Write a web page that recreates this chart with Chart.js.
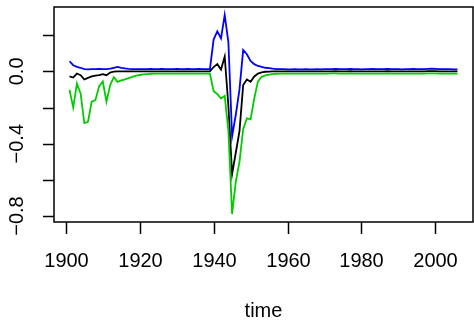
<!DOCTYPE html>
<html>
<head>
<meta charset="utf-8">
<script src="https://cdn.jsdelivr.net/npm/chart.js@4.4.0/dist/chart.umd.min.js"></script>
<style>
  html, body { margin: 0; padding: 0; background: #fff; }
  canvas { display: block; }
</style>
</head>
<body>
<canvas id="chart" width="474" height="323"></canvas>
<script>
// yearly values 1901..2006
const years = [
  1901,1902,1903,1904,1905,1906,1907,1908,1909,1910,1911,1912,1913,1914,1915,1916,1917,1918,1919,1920,
  1921,1922,1923,1924,1925,1926,1927,1928,1929,1930,1931,1932,1933,1934,1935,1936,1937,1938,1939,
  1940,1941,1942,1943,1944,1945,1946,1947,1948,1949,1950,1951,1952,1953,1954,1955,1956,1957,1958,
  1959,1960,1961,1962,1963,1964,1965,1966,1967,1968,1969,1970,1971,1972,1973,1974,1975,1976,1977,1978,
  1979,1980,1981,1982,1983,1984,1985,1986,1987,1988,1989,1990,1991,1992,1993,1994,1995,1996,1997,1998,
  1999,2000,2001,2002,2003,2004,2005,2006
];

const upper = [
  0.056,0.034,0.025,0.02,0.013,0.011,0.012,0.012,0.013,0.012,0.013,0.015,0.02,0.025,0.02,0.016,0.014,0.013,0.013,0.012,
  0.012,0.012,0.013,0.012,0.012,0.013,0.012,0.012,0.012,0.013,0.012,0.012,0.013,0.012,0.012,0.013,0.012,0.012,0.013,
  0.176,0.222,0.182,0.312,0.16,-0.36,-0.24,-0.1,0.119,0.095,0.058,0.04,0.03,0.025,0.02,0.018,0.015,0.013,0.012,
  0.012,0.011,0.011,0.012,0.011,0.011,0.012,0.011,0.011,0.012,0.011,0.012,0.012,0.013,0.014,0.013,0.012,0.013,0.014,0.013,
  0.012,0.011,0.012,0.012,0.013,0.012,0.012,0.013,0.014,0.013,0.012,0.012,0.011,0.012,0.012,0.013,0.012,0.012,0.013,0.014,
  0.015,0.014,0.013,0.013,0.012,0.012,0.011,0.011
];

const middle = [
  -0.028,-0.034,-0.012,-0.021,-0.045,-0.036,-0.028,-0.023,-0.021,-0.015,-0.021,-0.006,-0.001,0,0,0,0,0,0,0,
  0,0,0,0,0,0,0,0,0,0,0,0,0,0,0,0,0,0,0,
  0.024,0.04,0.01,0.082,-0.19,-0.568,-0.45,-0.33,-0.076,-0.045,-0.058,-0.028,-0.012,-0.005,-0.002,-0.001,0,0,0,
  0,0,0,0,0,0,0,0,0,0,0,0,0,0,0.001,0,0,0,0.001,0,
  0,0,0,0,0,0,0,0,0.001,0,0,0,0,0,0,0,0,0,0,0.001,
  0.001,0.001,0,0,0,0,0,0
];

const lower = [
  -0.102,-0.2,-0.067,-0.122,-0.286,-0.279,-0.168,-0.159,-0.083,-0.056,-0.168,-0.076,-0.032,-0.058,-0.05,-0.044,-0.037,-0.03,-0.024,-0.02,
  -0.017,-0.015,-0.013,-0.012,-0.012,-0.012,-0.012,-0.012,-0.012,-0.012,-0.012,-0.012,-0.012,-0.012,-0.012,-0.012,-0.012,-0.012,-0.012,
  -0.11,-0.125,-0.15,-0.135,-0.33,-0.789,-0.61,-0.5,-0.32,-0.26,-0.265,-0.15,-0.055,-0.03,-0.022,-0.018,-0.015,-0.013,-0.012,
  -0.012,-0.012,-0.012,-0.012,-0.012,-0.012,-0.012,-0.012,-0.012,-0.012,-0.012,-0.012,-0.012,-0.011,-0.011,-0.012,-0.012,-0.012,-0.011,-0.012,
  -0.012,-0.012,-0.012,-0.012,-0.012,-0.012,-0.012,-0.012,-0.011,-0.012,-0.012,-0.012,-0.012,-0.012,-0.012,-0.012,-0.012,-0.012,-0.012,-0.011,
  -0.011,-0.011,-0.012,-0.012,-0.012,-0.012,-0.012,-0.012
];

const xTicks = [1900, 1920, 1940, 1960, 1980, 2000];
const yTicks = [0.2, 0.0, -0.2, -0.4, -0.6, -0.8];
const yTickLabels = ['0.0', '-0.4', '-0.8'];
const yLabelAt = [0.0, -0.4, -0.8];
const xTitle = 'time';

const FONT = '20px "Liberation Sans", Arial, sans-serif';

// R style: data range stretched by 4% each side
const allVals = upper.concat(middle, lower);
const yLo = Math.min(...allVals), yHi = Math.max(...allVals);
const yPad = (yHi - yLo) * 0.04;
const xPad = (years[years.length - 1] - years[0]) * 0.04;

const toPts = arr => arr.map((v, i) => ({ x: years[i], y: v }));

// draws the box, ticks and labels the way R's base graphics does
const rAxes = {
    id: 'rAxes',
    afterDraw(chart) {
        const ctx = chart.ctx;
        const a = chart.chartArea;
        const xs = chart.scales.x, ys = chart.scales.y;
        ctx.save();
        ctx.strokeStyle = '#000';
        ctx.lineWidth = 1.5;
        ctx.strokeRect(a.left, a.top, a.right - a.left, a.bottom - a.top);

        ctx.fillStyle = '#000';
        ctx.font = FONT;
        ctx.textAlign = 'center';
        ctx.textBaseline = 'middle';
        xTicks.forEach(t => {
            const px = Math.round(xs.getPixelForValue(t)) + 0.5;
            ctx.beginPath();
            ctx.moveTo(px, a.bottom);
            ctx.lineTo(px, a.bottom + 12);
            ctx.stroke();
            ctx.fillText(String(t), px, a.bottom + 39);
        });
        yTicks.forEach(t => {
            const py = Math.round(ys.getPixelForValue(t)) + 0.5;
            ctx.beginPath();
            ctx.moveTo(a.left, py);
            ctx.lineTo(a.left - 11, py);
            ctx.stroke();
        });
        yLabelAt.forEach((t, i) => {
            const py = ys.getPixelForValue(t);
            ctx.save();
            ctx.translate(a.left - 37, py);
            ctx.rotate(-Math.PI / 2);
            ctx.fillText(yTickLabels[i].replace('-', '\u2212'), 0, 0);
            ctx.restore();
        });
        ctx.fillText(xTitle, (a.left + a.right) / 2, a.bottom + 89);
        ctx.restore();
    }
};

const chart = new Chart(document.getElementById('chart'), {
    type: 'line',
    data: {
        datasets: [
            { label: 'middle', data: toPts(middle), borderColor: '#000000', order: 3 },
            { label: 'upper', data: toPts(upper), borderColor: '#0000FF', order: 2 },
            { label: 'lower', data: toPts(lower), borderColor: '#00CD00', order: 1 },
        ],
    },
    options: {
        responsive: false,
        animation: false,
        layout: { padding: { left: 54, right: 1, top: 7, bottom: 101 } },
        elements: {
            line: { borderWidth: 1.8, tension: 0, fill: false },
            point: { radius: 0 },
        },
        scales: {
            x: { type: 'linear', display: false, min: years[0] - xPad, max: years[years.length - 1] + xPad },
            y: { type: 'linear', display: false, min: yLo - yPad, max: yHi + yPad },
        },
        plugins: {
            legend: { display: false },
            tooltip: { enabled: false },
        },
    },
    plugins: [rAxes],
});
</script>
</body>
